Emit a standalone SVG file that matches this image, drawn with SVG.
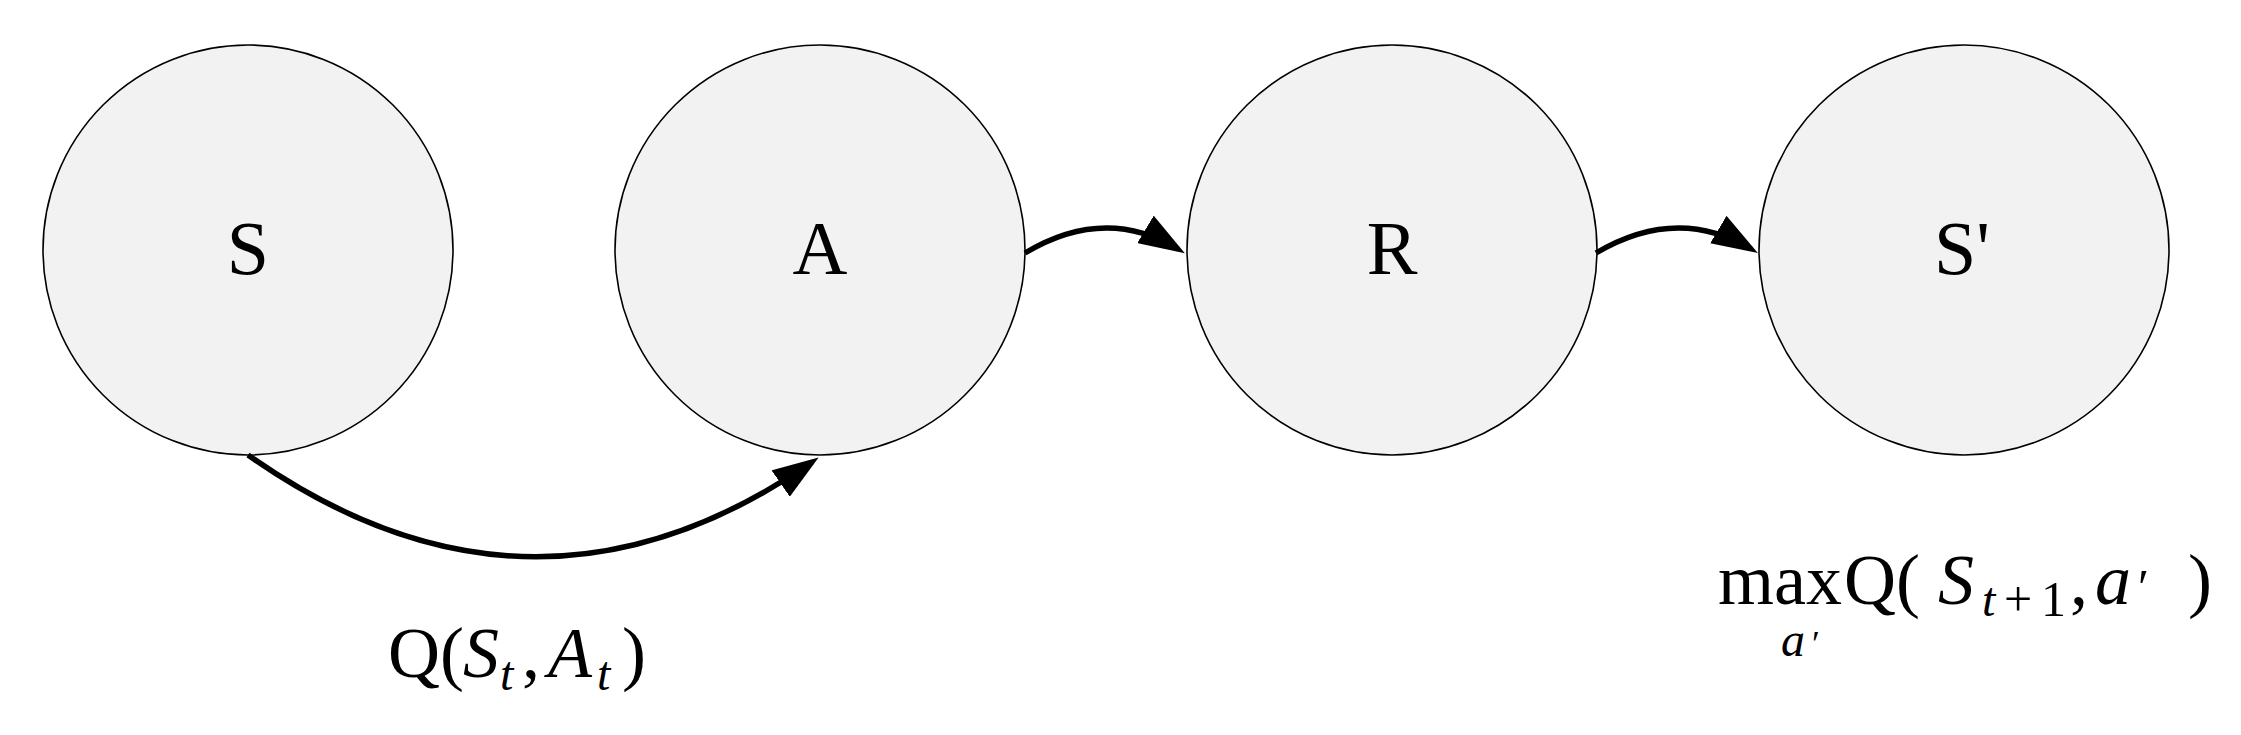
<svg xmlns="http://www.w3.org/2000/svg" width="2241" height="735" viewBox="0 0 2241 735">
<style>
.node{fill:#f2f2f2;stroke:#000;stroke-width:1.6}
.lbl{font-family:"Liberation Serif","DejaVu Serif",serif;font-size:76px;fill:#000;text-anchor:middle}
.conn{fill:none;stroke:#000;stroke-width:5.5}
.math{font-family:"Liberation Serif","DejaVu Serif",serif;font-size:72px;fill:#000}
.it{font-style:italic}
.sub{font-size:48px;font-style:italic}
</style>
<defs>
<marker id="arr" markerUnits="userSpaceOnUse" markerWidth="46" markerHeight="32" refX="38" refY="16" orient="auto">
<path d="M0,0 L46,16 L0,32 z" fill="#000"/>
</marker>
</defs>
<rect width="2241" height="735" fill="#fff"/>
<g id="node-S"><circle class="node" cx="248" cy="250" r="205"/><text class="lbl" x="248" y="274">S</text></g>
<g id="node-A"><circle class="node" cx="820" cy="250" r="205"/><text class="lbl" x="820" y="274">A</text></g>
<g id="node-R"><circle class="node" cx="1392" cy="250" r="205"/><text class="lbl" x="1392" y="274">R</text></g>
<g id="node-S2"><circle class="node" cx="1964" cy="250" r="205"/><text class="lbl" x="1962" y="274">S'</text></g>
<g id="connectors">
<path class="conn" d="M248,455 Q532,655 812,462" marker-end="url(#arr)"/>
<path class="conn" d="M1025,253 Q1105,205 1178,249" marker-end="url(#arr)"/>
<path class="conn" d="M1596,253 Q1677,205 1751,249" marker-end="url(#arr)"/>
</g>
<g id="label-q">
<text class="math" y="677"><tspan x="388">Q(</tspan><tspan class="it" x="463">S</tspan><tspan class="sub" x="500" y="690">t</tspan><tspan x="522" y="677">,</tspan><tspan class="it" x="548">A</tspan><tspan class="sub" x="597" y="690">t</tspan><tspan x="622" y="677">)</tspan></text>
</g>
<g id="label-max">
<text class="math" y="604"><tspan x="1718">max</tspan><tspan x="1844">Q(</tspan><tspan class="it" x="1938">S</tspan><tspan class="sub" x="1982" y="616">t</tspan><tspan x="2004" y="616" font-size="50">+</tspan><tspan x="2041" y="616" font-size="50">1</tspan><tspan x="2070" y="604">,</tspan><tspan class="it" x="2095">a</tspan><tspan x="2138" font-size="50">′</tspan><tspan x="2188">)</tspan></text>
<text class="math" y="656"><tspan class="sub" x="1781">a</tspan><tspan x="1812" font-size="36">′</tspan></text>
</g>
</svg>
